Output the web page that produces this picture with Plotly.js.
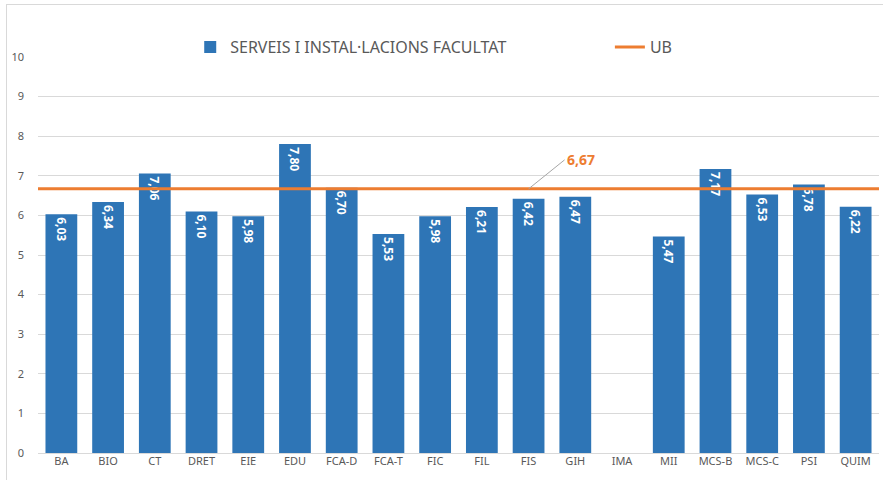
<!DOCTYPE html>
<html>
<head>
<meta charset="utf-8">
<script src="https://cdn.plot.ly/plotly-3.0.1.min.js"></script>
<style>
  html, body { margin: 0; padding: 0; overflow: hidden; background: #fff; }
  #wrap { position: relative; width: 883px; height: 480px; overflow: hidden; }
  #frame { position: absolute; left: 6px; top: 4px; width: 900px; height: 500px; border: 1px solid #d9d9d9; box-sizing: border-box; pointer-events: none; }
  #chart { position: absolute; left: 0; top: 0; width: 883px; height: 480px; }
</style>
</head>
<body>
<div id="wrap">
  <div id="chart"></div>
  <div id="frame"></div>
</div>
<script>
const categories = ["BA","BIO","CT","DRET","EIE","EDU","FCA-D","FCA-T","FIC","FIL","FIS","GIH","IMA","MII","MCS-B","MCS-C","PSI","QUIM"];
const facultyValues = [6.03,6.34,7.06,6.10,5.98,7.80,6.70,5.53,5.98,6.21,6.42,6.47,null,5.47,7.17,6.53,6.78,6.22];
const ubValue = 6.67;
const seriesNames = ["SERVEIS I INSTAL·LACIONS FACULTAT", "UB"];
const yTicks = [0,1,2,3,4,5,6,7,8,9,10];

const fmt = v => v === null ? "" : v.toFixed(2).replace(".", ",");

const font = "Noto Sans, Liberation Sans, sans-serif";

const barTrace = {
  type: "bar",
  name: seriesNames[0],
  x: categories,
  y: facultyValues,
  marker: { color: "#2e75b6" },
  text: facultyValues.map(fmt),
  textposition: "inside",
  insidetextanchor: "end",
  textangle: 90,
  textfont: { color: "#ffffff", size: 12, family: font, weight: "bold" },
  hoverinfo: "skip",
  legend: "legend"
};

const ubTrace = {
  type: "scatter",
  mode: "lines",
  name: seriesNames[1],
  x: [0, 1],
  y: [ubValue, ubValue],
  xaxis: "x2",
  yaxis: "y",
  line: { color: "#ed7d31", width: 3 },
  hoverinfo: "skip",
  legend: "legend2"
};

const legendBase = {
  orientation: "h",
  xanchor: "left",
  y: 1.025, yanchor: "middle",
  font: { size: 16, color: "#595959", family: font },
  bgcolor: "rgba(0,0,0,0)"
};

const layout = {
  width: 883,
  height: 480,
  margin: { l: 38, r: 4, t: 57, b: 27 },
  paper_bgcolor: "rgba(0,0,0,0)",
  plot_bgcolor: "#ffffff",
  bargap: 0.32,
  font: { family: font, color: "#595959", size: 11 },
  showlegend: true,
  legend: Object.assign({}, legendBase, { x: 0.181 }),
  legend2: Object.assign({}, legendBase, { x: 0.68 }),
  xaxis: {
    type: "category",
    categoryorder: "array",
    categoryarray: categories,
    showgrid: false,
    showline: false,
    zeroline: false,
    ticks: "",
    tickfont: { size: 11, color: "#595959" },
    fixedrange: true
  },
  xaxis2: {
    overlaying: "x",
    range: [0, 1],
    visible: false,
    fixedrange: true
  },
  yaxis: {
    range: [0, 10],
    tickvals: yTicks,
    showgrid: true,
    gridcolor: "#d9d9d9",
    gridwidth: 1,
    zeroline: true,
    zerolinecolor: "#d9d9d9",
    zerolinewidth: 1,
    showline: false,
    ticks: "",
    tickfont: { size: 11, color: "#595959" },
    ticklabelstandoff: 13,
    fixedrange: true
  },
  annotations: [{
    x: "FIS",
    y: ubValue,
    xref: "x",
    yref: "y",
    text: fmt(ubValue),
    showarrow: true,
    arrowhead: 0,
    arrowwidth: 1,
    arrowcolor: "#a6a6a6",
    ax: 36,
    ay: -29,
    xanchor: "left",
    font: { size: 14, color: "#ed7d31", family: font, weight: "bold" }
  }]
};

Plotly.newPlot("chart", [barTrace, ubTrace], layout, { displayModeBar: false, staticPlot: true });
</script>
</body>
</html>
